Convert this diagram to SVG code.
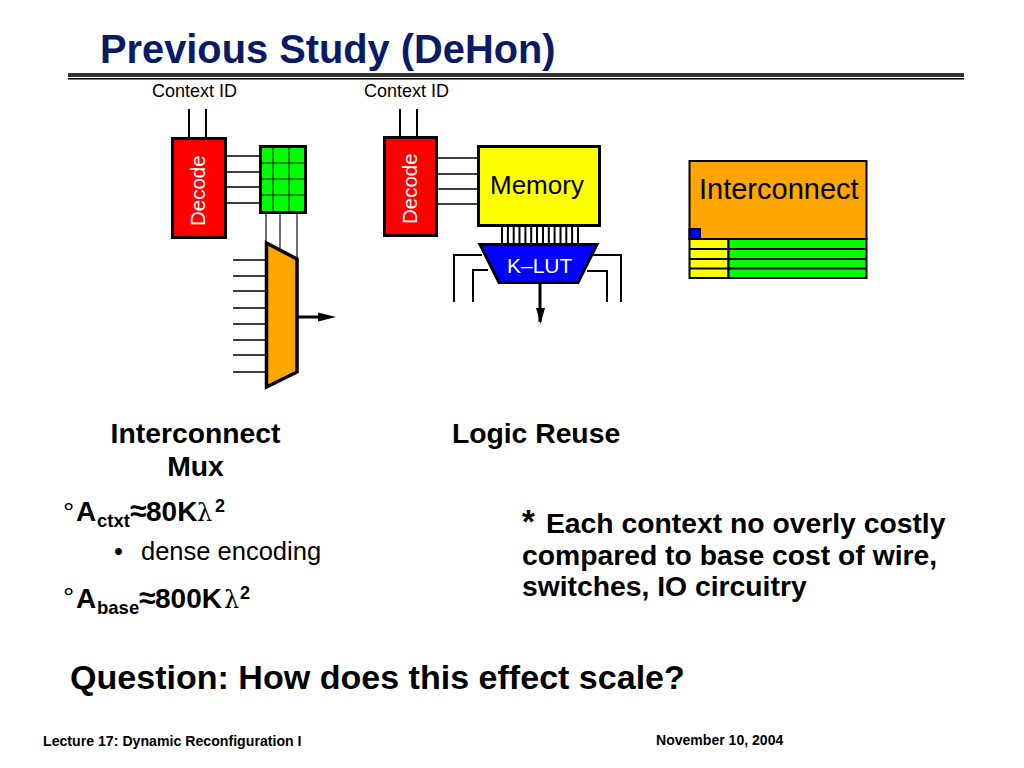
<svg xmlns="http://www.w3.org/2000/svg" width="1024" height="768" viewBox="0 0 1024 768">
<defs>
<style>
text{font-family:"Liberation Sans",Arial,sans-serif;fill:#000}
.b{font-weight:700}
.box{stroke:#000;stroke-width:3}
.thin{stroke:#000;stroke-width:1.5;fill:none}
.wire{stroke:#000;stroke-width:2;fill:none}
.fig{font-size:18px}
.h{font-size:28.300px;font-weight:700}
.m{font-size:28px;font-weight:700}
.sub{font-size:18.500px;font-weight:700}
.sup{font-size:18px;font-weight:700}
.lam{font-family:"DejaVu Serif",serif;font-size:24px}
.deg{font-size:28px}
</style>
</defs>
<rect width="1024" height="768" fill="#fff"/>
<g id="title">
<text x="100" y="63" class="b" font-size="39.800" style="fill:#0a1a66">Previous Study (DeHon)</text>
<rect x="68" y="73" width="896" height="4" fill="#333"/>
<rect x="68" y="78" width="896" height="1.500" fill="#000"/>
</g>
<g id="connectors">
<path class="wire" d="M189 109V138M206 109V138M400 109V137M417 109V137"/>
<path class="thin" d="M226 156H260M226 172H260M226 187H260M226 203H260"/>
<path class="thin" d="M266 213V242M280 213V250M297 213V259" stroke-opacity=".75"/>
<path class="thin" d="M233 260H266M233 276H266M233 291H266M233 308H266M233 324H266M233 340H266M233 355H266M233 372H266"/>
<path d="M297 317H322" stroke="#000" stroke-width="3" fill="none"/>
<path d="M318 312.500L336 317L318 321.500Z" fill="#000"/>
<path class="thin" d="M437 158H478M437 174H478M437 189H478M437 204H478"/>
<path class="wire" d="M502 226V243M507.900 226V243M513.700 226V243M519.500 226V243M525.400 226V243M531.200 226V243M537 226V243M543 226V243M548.800 226V243M554.600 226V243M560.500 226V243M566.300 226V243M572.100 226V243M578 226V243"/>
<path class="wire" d="M454 302V255H482M473 302V270H488M621 302V255H593M607 302V271H587"/>
<path d="M540 283V322" stroke="#000" stroke-width="3" fill="none"/>
<path d="M536 308H545L540.500 324Z" fill="#000"/>
</g>
<g id="context-id-1"><text x="152" y="97" class="fig">Context ID</text></g>
<g id="decode-1">
<rect class="box" x="172.500" y="138.500" width="53" height="99" fill="#f00"/>
<text transform="translate(205 226) rotate(-90)" font-size="20.500" style="fill:#fff">Decode</text>
</g>
<g id="config-memory">
<rect class="box" x="260.500" y="146.500" width="45" height="66" fill="#0f0"/>
<path d="M273 147V212M289 147V212M261 163H305M261 179H305M261 195H305" stroke="#111" stroke-width="1" fill="none"/>
</g>
<g id="mux"><path d="M266.500 243L297 259V372L266.500 387Z" fill="#ffa500" stroke="#000" stroke-width="3.500"/></g>
<g id="context-id-2"><text x="364" y="97" class="fig">Context ID</text></g>
<g id="decode-2">
<rect class="box" x="384.500" y="137.500" width="52" height="98" fill="#f00"/>
<text transform="translate(417 224) rotate(-90)" font-size="20.500" style="fill:#fff">Decode</text>
</g>
<g id="memory">
<rect class="box" x="478.500" y="146.500" width="121" height="79" fill="#ff0"/>
<text x="490" y="194" font-size="26">Memory</text>
</g>
<g id="klut">
<path class="box" d="M480 244.500H597L578 282.500H499Z" fill="#00f"/>
<text x="507" y="273" font-size="21" style="fill:#fff">K–LUT</text>
</g>
<g id="interconnect-block">
<rect x="689.500" y="161" width="177" height="78" fill="#ffa500" stroke="#000" stroke-width="2"/>
<text x="699" y="199" font-size="29">Interconnect</text>
<rect x="689.500" y="229" width="10.500" height="10" fill="#00f" stroke="#000" stroke-width="2"/>
<rect x="689.500" y="239" width="39" height="39" fill="#ff0" stroke="#000" stroke-width="2"/>
<rect x="728.500" y="239" width="138" height="39" fill="#0f0" stroke="#000" stroke-width="2"/>
<path d="M689 249H866M689 259H866M689 268.500H866" stroke="#000" stroke-width="2" fill="none"/>
</g>
<g id="labels">
<text x="195.500" y="443" class="h" text-anchor="middle">Interconnect</text>
<text x="195.500" y="476" class="h" text-anchor="middle">Mux</text>
<text x="536" y="443" class="h" text-anchor="middle">Logic Reuse</text>
<text class="m" y="521"><tspan x="63" y="522" class="deg" font-weight="400">°</tspan><tspan x="76" y="521">A</tspan><tspan x="97" y="527" class="sub">ctxt</tspan><tspan x="130" y="521" font-size="30">≈</tspan><tspan x="146" y="521">80K</tspan><tspan x="197" y="521" class="lam" font-weight="400">λ</tspan><tspan x="215" y="512" class="sup">2</tspan></text>
<text x="114" y="560" font-size="25.500">•</text>
<text x="141" y="560" font-size="25.500">dense encoding</text>
<text class="m" y="607.500"><tspan x="63" y="607" class="deg" font-weight="400">°</tspan><tspan x="76" y="607.500">A</tspan><tspan x="97" y="613.500" class="sub">base</tspan><tspan x="139" y="607.500" font-size="30">≈</tspan><tspan x="155" y="607.500">800K</tspan><tspan x="224" y="607.500" class="lam" font-weight="400">λ</tspan><tspan x="240" y="598.500" class="sup">2</tspan></text>
<text x="522" y="533" class="h"><tspan font-size="33">*</tspan><tspan x="546">Each context no overly costly</tspan></text>
<text x="522" y="565" class="h">compared to base cost of wire,</text>
<text x="522" y="596" class="h">switches, IO circuitry</text>
<text x="70" y="689" class="b" font-size="34.050">Question: How does this effect scale?</text>
<text x="43" y="746" class="b" font-size="14.150">Lecture 17: Dynamic Reconfiguration I</text>
<text x="656" y="745" class="b" font-size="14.050">November 10, 2004</text>
</g>
</svg>
